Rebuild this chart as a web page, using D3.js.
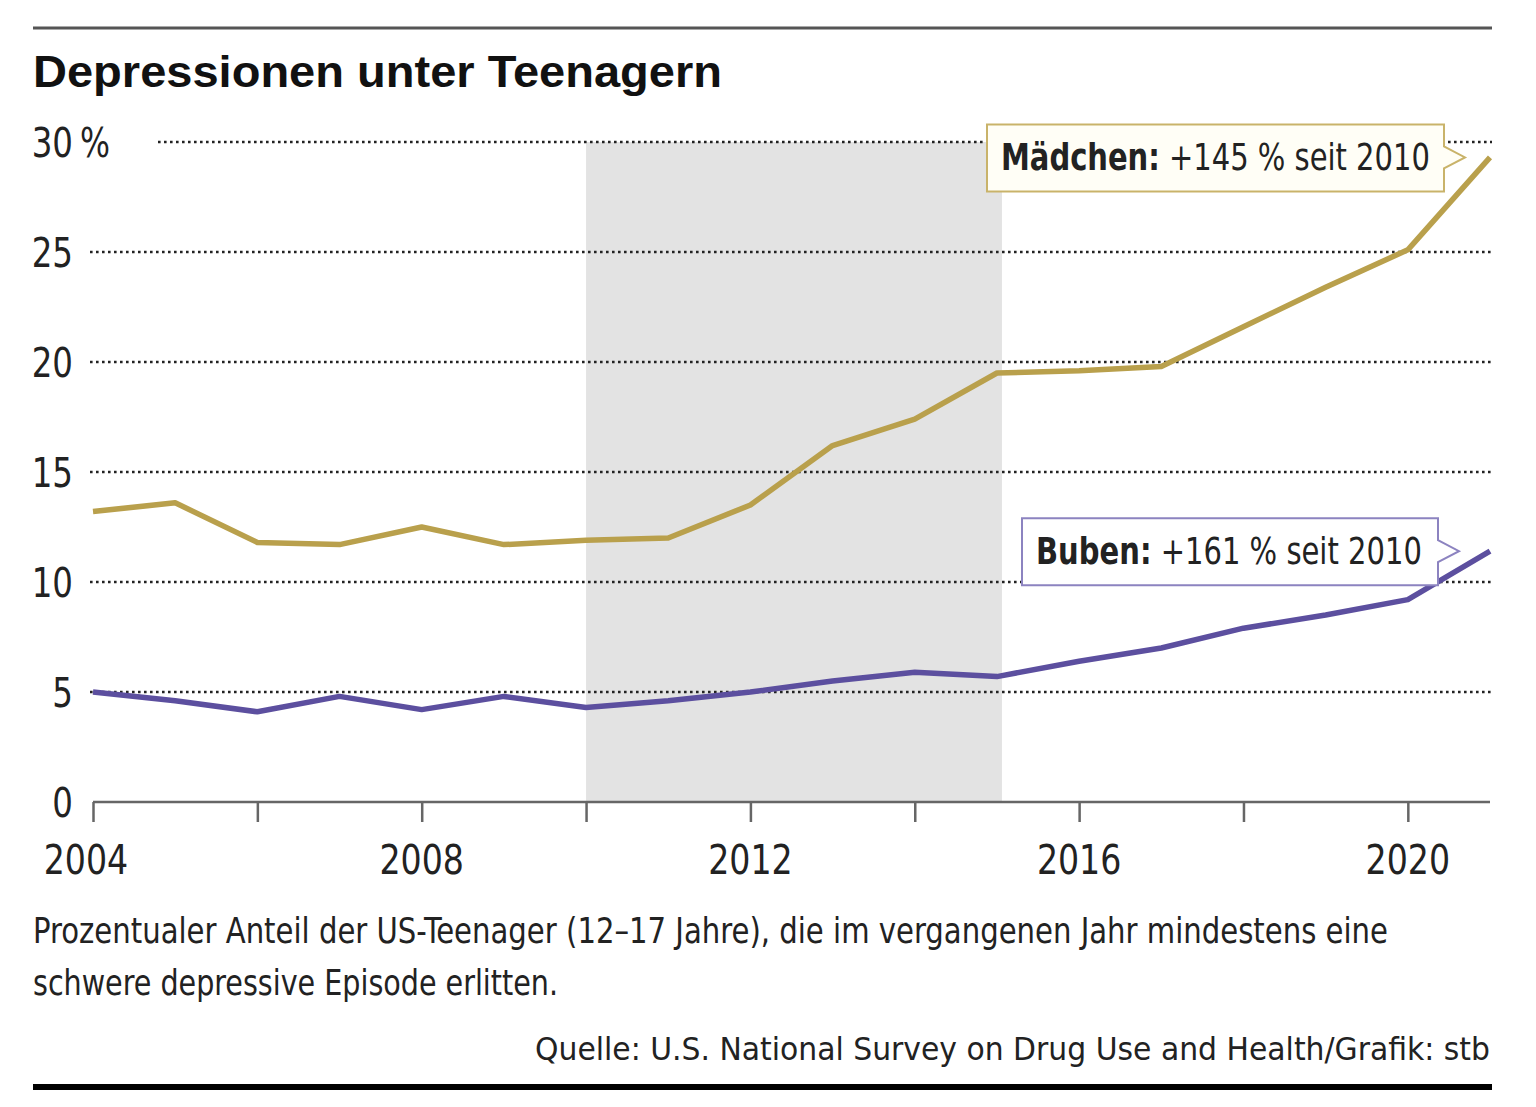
<!DOCTYPE html>
<html>
<head>
<meta charset="utf-8">
<script src="https://cdn.jsdelivr.net/npm/d3@7"></script>
<style>
  html, body { margin: 0; padding: 0; background: #fff; }
  svg { display: block; }
  .narrow { font-family: "Liberation Sans Narrow", "DejaVu Sans Condensed", "Roboto", sans-serif; font-stretch: condensed; }
</style>
</head>
<body>
<svg id="chart" width="1536" height="1107"></svg>
<script>

// Data
const years = [2004, 2005, 2006, 2007, 2008, 2009, 2010, 2011, 2012, 2013, 2014, 2015, 2016, 2017, 2018, 2019, 2020, 2021];
const girls = [13.2, 13.6, 11.8, 11.7, 12.5, 11.7, 11.9, 12.0, 13.5, 16.2, 17.4, 19.5, 19.6, 19.8, 21.6, 23.4, 25.1, 29.3];
const boys  = [5.0, 4.6, 4.1, 4.8, 4.2, 4.8, 4.3, 4.6, 5.0, 5.5, 5.9, 5.7, 6.4, 7.0, 7.9, 8.5, 9.2, 11.4];
const yTicks = [0, 5, 10, 15, 20, 25, 30];
const xTickYears = [2004, 2006, 2008, 2010, 2012, 2014, 2016, 2018, 2020];
const xLabelYears = [2004, 2008, 2012, 2016, 2020];
const band = [2010, 2015];

const title = "Depressionen unter Teenagern";
const girlsLabel = ["Mädchen:", " +145 % seit 2010"];
const boysLabel = ["Buben:", " +161 % seit 2010"];
const caption = [
    "Prozentualer Anteil der US-Teenager (12–17 Jahre), die im vergangenen Jahr mindestens eine",
    "schwere depressive Episode erlitten."
];
const source = "Quelle: U.S. National Survey on Drug Use and Health/Grafik: stb";

const gold = "#b9a04c";
const purple = "#5c4f9f";

const svg = d3.select("#chart");

// squeeze text to a given width (the reference uses a condensed face)
function fitWidth(sel, w) {
    sel.attr("textLength", w).attr("lengthAdjust", "spacingAndGlyphs");
}
function condense(sel, k) {
    sel.each(function() {
        const L = this.getComputedTextLength();
        d3.select(this).attr("textLength", L * k).attr("lengthAdjust", "spacingAndGlyphs");
    });
}

// scales
const x = d3.scaleLinear().domain([2004, 2021]).range([93, 1490]);
const y = d3.scaleLinear().domain([0, 30]).range([802, 142]);

// top rule
svg.append("line")
   .attr("x1", 33).attr("x2", 1492).attr("y1", 28).attr("y2", 28)
   .attr("stroke", "#555").attr("stroke-width", 3);

// title
svg.append("text")
   .attr("x", 33).attr("y", 87)
   .attr("font-family", "Liberation Sans, Arial, sans-serif")
   .attr("font-weight", "bold").attr("font-size", 45)
   .attr("fill", "#111")
   .text(title)
   .call(fitWidth, 689);

// highlight band 2010-2015
svg.append("rect")
   .attr("x", x(band[0])).attr("y", y(30))
   .attr("width", x(band[1]) - x(band[0]) + 5)
   .attr("height", y(0) - y(30))
   .attr("fill", "#e3e3e3");

// dotted gridlines
svg.append("g")
   .selectAll("line")
   .data(yTicks.filter(d => d > 0))
   .join("line")
   .attr("x1", d => d === 30 ? 158 : 90)
   .attr("x2", 1492)
   .attr("y1", d => y(d)).attr("y2", d => y(d))
   .attr("stroke", "#222")
   .attr("stroke-width", 2.6)
   .attr("stroke-dasharray", "2.6,3.4");

// y labels
const yLab = svg.append("g").attr("class", "narrow")
   .attr("font-size", 41).attr("fill", "#222");
yLab.selectAll("text")
   .data(yTicks)
   .join("text")
   .attr("x", 73)
   .attr("y", d => y(d) + 15)
   .attr("text-anchor", "end")
   .text(d => d)
   .call(condense, 0.88);
yLab.append("text")
   .attr("x", 80).attr("y", y(30) + 15)
   .text("%")
   .call(fitWidth, 30);

// x axis
const xAxis = d3.axisBottom(x)
   .tickValues(xTickYears)
   .tickSize(20)
   .tickFormat("");
const gx = svg.append("g")
   .attr("transform", `translate(0,${y(0)})`)
   .call(xAxis);
gx.select(".domain").attr("stroke", "#666").attr("stroke-width", 2.5)
   .attr("d", `M${x(2004)},0H${x(2021)}`);
gx.selectAll(".tick line").attr("stroke", "#666").attr("stroke-width", 2.5);

svg.append("g").attr("class", "narrow")
   .attr("font-size", 41).attr("fill", "#222")
   .selectAll("text")
   .data(xLabelYears)
   .join("text")
   .attr("x", d => x(d) - (d === 2004 ? 7 : 0))
   .attr("y", 874)
   .attr("text-anchor", "middle")
   .text(d => d)
   .call(condense, 0.9);

// lines
const line = d3.line().x((d, i) => x(years[i])).y(d => y(d));
svg.append("path").datum(girls)
   .attr("d", line)
   .attr("fill", "none").attr("stroke", gold)
   .attr("stroke-width", 5.5).attr("stroke-linejoin", "round");
svg.append("path").datum(boys)
   .attr("d", line)
   .attr("fill", "none").attr("stroke", purple)
   .attr("stroke-width", 5.5).attr("stroke-linejoin", "round");

// speech-bubble annotations
function bubble(parts, textW, value, border, fill, left, right) {
    const tipX = right + 21;
    const tipY = y(value);
    const top = tipY - 33, bottom = tipY + 34;
    const g = svg.append("g");
    const p = d3.path();
    p.moveTo(left, top);
    p.lineTo(right, top);
    p.lineTo(right, tipY - 11);
    p.lineTo(tipX, tipY);
    p.lineTo(right, tipY + 11);
    p.lineTo(right, bottom);
    p.lineTo(left, bottom);
    p.closePath();
    g.append("path").attr("d", p.toString())
     .attr("fill", fill).attr("stroke", border).attr("stroke-width", 2);
    // text drawn at natural width, then squeezed horizontally
    const tg = g.append("g");
    const t = tg.append("text").attr("class", "narrow")
     .attr("x", 0).attr("y", 0)
     .attr("font-size", 38).attr("fill", "#222")
     .attr("xml:space", "preserve")
     .style("white-space", "pre");
    t.append("tspan").attr("font-weight", "bold").text(parts[0]);
    t.append("tspan").text(parts[1]);
    const k = textW / t.node().getComputedTextLength();
    tg.attr("transform", `translate(${left + 14},${tipY + 13}) scale(${k},1)`);
}
bubble(girlsLabel, 429, girls[girls.length - 1], "#c9b36a", "#fffef6", 987, 1444);
bubble(boysLabel, 386, boys[boys.length - 1], "#8c83c0", "#ffffff", 1022, 1438);

// caption
const capWidths = [1355, 525];
svg.append("g").attr("class", "narrow")
   .attr("font-size", 35).attr("fill", "#222")
   .selectAll("text")
   .data(caption)
   .join("text")
   .attr("x", 33)
   .attr("y", (d, i) => 943 + i * 52)
   .text(d => d)
   .each(function(d, i) { d3.select(this).call(fitWidth, capWidths[i]); });

svg.append("text").attr("class", "narrow")
   .attr("x", 1490).attr("y", 1060)
   .attr("text-anchor", "end")
   .attr("font-size", 32).attr("fill", "#222")
   .text(source)
   .call(fitWidth, 955);

// bottom rule
svg.append("line")
   .attr("x1", 33).attr("x2", 1492).attr("y1", 1087).attr("y2", 1087)
   .attr("stroke", "#000").attr("stroke-width", 6);

</script>
</body>
</html>
